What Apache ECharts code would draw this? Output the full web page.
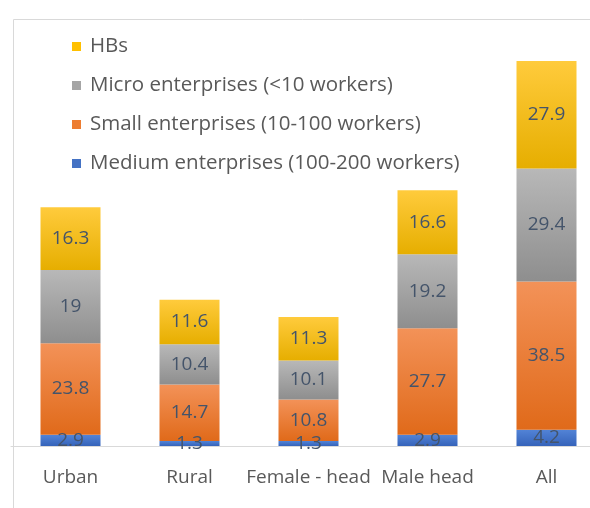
<!DOCTYPE html>
<html>
<head>
<meta charset="utf-8">
<script src="https://cdn.jsdelivr.net/npm/echarts@6/dist/echarts.min.js"></script>
<style>
  html, body { margin: 0; padding: 0; background: #fff; }
  #chart { width: 590px; height: 508px; }
</style>
</head>
<body>
<div id="chart"></div>
<script>
const categories = ['Urban', 'Rural', 'Female - head', 'Male head', 'All']
const medium = [2.9, 1.3, 1.3, 2.9, 4.2]
const small = [23.8, 14.7, 10.8, 27.7, 38.5]
const micro = [19, 10.4, 10.1, 19.2, 29.4]
const hbs = [16.3, 11.6, 11.3, 16.6, 27.9]

const FONT = '"Open Sans", "DejaVu Sans", sans-serif'

// top -> bottom gradient per segment
function grad(top, bottom) {
  return new echarts.graphic.LinearGradient(0, 0, 0, 1, [
    { offset: 0, color: top },
    { offset: 1, color: bottom }
  ])
}

function seg(name, data, top, bottom) {
  return {
    name: name,
    type: 'bar',
    stack: 'total',
    barWidth: 60,
    data: data,
    itemStyle: { color: grad(top, bottom) },
    label: {
      show: true,
      position: 'inside',
      color: '#44546A',
      fontSize: 19,
      fontFamily: FONT
    }
  }
}

const chart = echarts.init(document.getElementById('chart'))
chart.setOption({
  animation: false,
  graphic: [{
    type: 'rect',
    left: 11,
    top: 17,
    shape: { width: 700, height: 600 },
    style: { fill: 'none', stroke: '#d9d9d9', lineWidth: 1 }
  }],
  legend: {
    orient: 'vertical',
    left: 67,
    top: 31,
    itemWidth: 9,
    itemHeight: 9,
    itemGap: 18,
    icon: 'rect',
    data: [
      { name: 'HBs', itemStyle: { color: '#FFC000' } },
      { name: 'Micro enterprises (<10 workers)', itemStyle: { color: '#A5A5A5' } },
      { name: 'Small enterprises (10-100 workers)', itemStyle: { color: '#ED7D31' } },
      { name: 'Medium enterprises (100-200 workers)', itemStyle: { color: '#4472C4' } }
    ],
    textStyle: { color: '#595959', fontSize: 20.5, fontFamily: FONT, padding: [0, 0, 0, 4] }
  },
  grid: { left: 11, top: 61, width: 595, height: 385, outerBoundsMode: 'none' },
  xAxis: {
    type: 'category',
    data: categories,
    axisLine: { lineStyle: { color: '#d9d9d9' } },
    axisTick: { show: false },
    axisLabel: { color: '#595959', fontSize: 19, fontFamily: FONT, margin: 22, interval: 0 }
  },
  yAxis: {
    type: 'value',
    min: 0,
    max: 100,
    show: false,
    splitLine: { show: false }
  },
  series: [
    seg('Medium enterprises (100-200 workers)', medium, '#5283D6', '#3563BA'),
    seg('Small enterprises (10-100 workers)', small, '#F39258', '#E06A1A'),
    seg('Micro enterprises (<10 workers)', micro, '#B8B8B8', '#8E8E8E'),
    seg('HBs', hbs, '#FFCB3C', '#E6AE00')
  ]
})
</script>
</body>
</html>
